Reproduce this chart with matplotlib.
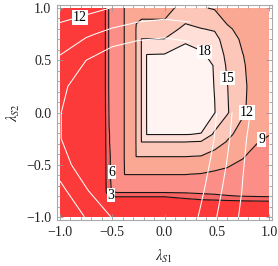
import numpy as np
import matplotlib
matplotlib.use("Agg")
import matplotlib.pyplot as plt
from matplotlib.ticker import FixedLocator, FixedFormatter, MultipleLocator

# ---- main field (black contours) ----
f_x = [-1.0, -0.61, -0.57, -0.53, -0.45, -0.38, -0.27, -0.22, -0.17, 0.0, 0.2, 0.35, 0.48, 0.6, 0.75, 0.88, 1.0]
f_y = [-1.0, -0.88, -0.84, -0.80, -0.76, -0.72, -0.59, -0.42, -0.28, -0.21, 0.0, 0.25, 0.45, 0.55, 0.7, 0.8, 0.9, 1.0]
f_grid = [
    [0.5, 0.5, 0.5, 0.5, 0.5, 0.5, 0.5, 0.5, 0.5, 0.5, 0.5, 0.5, 0.5, 0.5, 0.5, 0.5, 0.5],
    [0.5, 1.0, 1.0, 1.0, 1.0, 1.0, 1.0, 1.0, 1.0, 1.0, 1.0, 1.1, 1.1, 1.2, 1.2, 1.3, 1.3],
    [0.5, 1.0, 2.0, 2.0, 2.0, 2.0, 2.0, 2.0, 2.0, 2.0, 2.3, 2.7, 2.9, 3.1, 3.3, 3.4, 3.5],
    [0.5, 1.0, 2.0, 3.2, 3.2, 3.2, 3.2, 3.2, 3.2, 3.2, 4.0, 5.0, 5.4, 5.8, 6.1, 6.3, 6.4],
    [0.5, 1.0, 2.0, 5.5, 6.5, 6.5, 6.5, 6.5, 6.5, 6.5, 6.6, 6.7, 6.8, 7.0, 7.0, 6.9, 6.9],
    [0.5, 1.0, 2.0, 5.5, 7.6, 7.6, 7.6, 7.6, 7.6, 7.6, 7.6, 7.6, 7.6, 7.6, 7.3, 7.1, 7.0],
    [0.5, 1.0, 2.2, 5.7, 7.8, 9.05, 9.05, 9.05, 9.05, 9.05, 9.05, 8.9, 8.5, 8.2, 7.8, 7.4, 7.2],
    [0.5, 1.0, 2.2, 5.7, 7.8, 9.1, 12.05, 12.05, 12.05, 12.05, 12.05, 11.9, 11.2, 10.4, 9.2, 8.0, 7.6],
    [0.5, 1.0, 2.3, 5.9, 7.8, 9.1, 12.1, 15.05, 15.05, 15.05, 15.05, 14.85, 13.0, 11.9, 10.5, 9.2, 8.4],
    [0.5, 1.0, 2.3, 5.9, 7.8, 9.1, 12.1, 15.1, 18.05, 18.05, 18.05, 17.9, 14.4, 12.4, 11.3, 10.2, 9.1],
    [0.5, 1.0, 2.5, 6.2, 7.8, 9.1, 12.1, 15.1, 18.1, 19.5, 19.6, 19.6, 18.1, 15.3, 12.2, 11.3, 10.7],
    [0.5, 1.0, 2.6, 6.4, 7.8, 9.1, 12.1, 15.1, 18.1, 19.5, 20.0, 19.6, 17.9, 15.1, 12.3, 11.3, 10.8],
    [0.5, 1.0, 2.6, 6.4, 7.8, 9.1, 12.1, 15.1, 18.1, 19.5, 20.0, 19.4, 17.8, 14.6, 12.2, 11.1, 10.6],
    [0.5, 1.0, 2.6, 6.4, 7.8, 9.1, 12.1, 15.1, 18.1, 18.2, 19.3, 18.4, 17.2, 14.2, 12.05, 10.9, 10.5],
    [0.5, 1.0, 2.6, 6.4, 7.8, 9.1, 12.1, 15.1, 15.1, 15.1, 17.5, 17.0, 16.0, 13.5, 11.5, 10.6, 10.3],
    [0.5, 1.0, 2.6, 6.4, 7.8, 9.1, 12.1, 13.3, 13.3, 13.3, 15.8, 15.1, 14.7, 12.5, 11.0, 10.4, 10.1],
    [0.5, 1.0, 2.6, 6.4, 7.8, 9.1, 11.9, 11.9, 11.9, 11.9, 14.2, 13.4, 13.0, 11.3, 10.6, 10.1, 9.9],
    [0.5, 1.0, 2.6, 6.4, 7.8, 9.1, 10.9, 10.9, 10.9, 10.9, 13.2, 12.2, 11.8, 10.6, 10.3, 9.9, 9.7],
]
f_levels = [3, 6, 9, 12, 15, 18]
band_colors = ["#fc3a3a", "#f76464", "#fb8e86", "#faa894", "#fcc6b8", "#ffdfd7", "#fff4f1"]

# ---- second field (white contours) ----
g_x = [-1.0, -0.75, -0.5, -0.25, 0.0, 0.25, 0.5, 0.75, 1.0]
g_y = [-1.0, -0.75, -0.5, -0.25, 0.0, 0.25, 0.5, 0.75, 1.0]
nan = np.nan
g_grid = [
    [11.5, 9.9, 7.9, 6.0, 5.5, 7.2, 10.0, 12.4, 14.2],
    [10.6, 8.2, 6.0, 4.5, 4.6, 6.4, 9.5, 12.1, 14.0],
    [9.0, 6.7, 4.8, 3.6, 3.9, 5.7, 8.9, 11.9, 14.0],
    [8.1, 5.8, 4.0, 3.2, 3.6, 5.2, 8.3, 11.7, 13.8],
    [8.1, 6.0, 4.3, 3.5, 3.8, 5.0, 8.0, 11.4, 13.5],
    [8.6, 6.6, 5.0, 4.2, 4.2, 5.0, nan, nan, nan],
    [9.7, 8.0, 6.5, 5.8, 5.6, 6.0, nan, nan, nan],
    [11.2, 10.3, 9.4, 8.7, 8.4, 8.8, nan, nan, nan],
    [13.0, 12.6, 11.95, 11.5, 11.2, 11.4, nan, nan, nan],
]
g_levels = [8, 10, 12]

tick_values = [-1.0, -0.5, 0.0, 0.5, 1.0]
tick_labels = ["\u22121.0", "\u22120.5", "0.0", "0.5", "1.0"]

plt.rcParams["font.family"] = ["Liberation Serif", "DejaVu Serif"]
plt.rcParams["mathtext.fontset"] = "stix"

fig = plt.figure(figsize=(2.78, 2.66), dpi=100)
ax = fig.add_axes([57 / 278, 46 / 266, 215 / 278, 215 / 266])

FX, FY = np.meshgrid(f_x, f_y)
F = np.array(f_grid)
ax.contourf(FX, FY, F, levels=[-100] + f_levels + [100], colors=band_colors)
cs = ax.contour(FX, FY, F, levels=f_levels, colors="#151515", linewidths=0.8)

GX, GY = np.meshgrid(g_x, g_y)
G = np.ma.masked_invalid(np.array(g_grid))
gs = ax.contour(GX, GY, G, levels=g_levels, colors="white", linewidths=0.75)

# contour labels (level value, label position)
label_spots = [(3, (-0.515, -0.79)), (6, (-0.50, -0.57)), (9, (0.93, -0.26)),
               (12, (0.79, 0.0)), (15, (0.6, 0.33)), (18, (0.38, 0.58))]
white_label_spots = [(12, (-0.81, 0.91))]
for lev, (lx, ly) in label_spots + white_label_spots:
    ax.text(lx, ly, str(lev), fontsize=10, color="black", ha="center", va="center",
            bbox=dict(facecolor="white", edgecolor="none", pad=0.5), zorder=5)

ax.set_xlim(-1.029, 1.029)
ax.set_ylim(-1.029, 1.029)
for axis in (ax.xaxis, ax.yaxis):
    axis.set_major_locator(FixedLocator(tick_values))
    axis.set_major_formatter(FixedFormatter(tick_labels))
    axis.set_minor_locator(MultipleLocator(0.1))
ax.tick_params(which="both", direction="in", top=True, right=True, color="#999999",
               labelsize=10, labelcolor="#222222", width=0.6)
ax.tick_params(which="major", length=4, pad=4)
ax.tick_params(which="minor", length=2)
for s in ax.spines.values():
    s.set_color("#aaaaaa")
    s.set_linewidth(0.8)

ax.set_xlabel(r"$\lambda_{S1}$", fontsize=10.5, labelpad=7, color="#222222")
ax.set_ylabel(r"$\lambda_{S2}$", fontsize=10.5, labelpad=3, color="#222222")

fig.savefig("out.png", dpi=100)
